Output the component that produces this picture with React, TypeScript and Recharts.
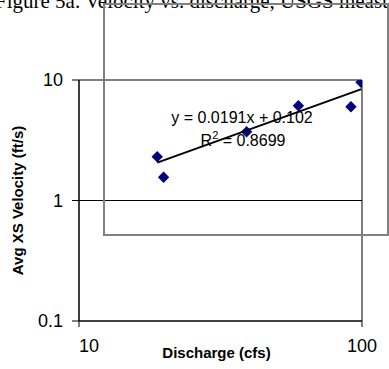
import { CartesianGrid, Scatter, ScatterChart, XAxis, YAxis } from "recharts";

// discharge (cfs) and average cross-section velocity (ft/s)
const discharge = [18.9, 19.9, 39.1, 59.6, 91.4, 99.2];
const velocity = [2.31, 1.56, 3.72, 6.12, 6.0, 9.57];

// trendline end points as drawn in the original
const trendDischarge = [18.9, 99.5];
const trendVelocity = [2.06, 8.4];

const xTicks = [10, 100];
const yTicks = [0.1, 1, 10];

const points = discharge.map((x, i) => ({ x, y: velocity[i] }));
const trend = trendDischarge.map((x, i) => ({ x, y: trendVelocity[i] }));

const sans = "'Liberation Sans', Arial, sans-serif";
const serif = "'Liberation Serif', 'Times New Roman', serif";

function Diamond(props: any) {
  const { cx, cy } = props;
  const r = 5.7;
  return (
    <polygon
      points={`${cx},${cy - r} ${cx + r},${cy} ${cx},${cy + r} ${cx - r},${cy}`}
      fill="#000080"
    />
  );
}

function XTick({ x, y, payload }: any) {
  const anchor = payload.value === 10 ? "start" : "middle";
  return (
    <text x={x} y={y} dy="0.71em" textAnchor={anchor} fill="#000" fontSize={18} fontFamily={sans}>
      {payload.value}
    </text>
  );
}

export default function App() {
  return (
    <div style={{ position: "absolute", left: 0, top: 0, width: 389, height: 369, background: "#fff" }}>
      <ScatterChart width={389} height={369} margin={{ top: 80, right: 27, bottom: 0, left: 0 }}>
        <CartesianGrid stroke="#000" strokeWidth={1} />
        <XAxis
          type="number"
          dataKey="x"
          scale="log"
          domain={[10, 100]}
          ticks={xTicks}
          allowDataOverflow
          height={48}
          stroke="#000"
          tickSize={6}
          tickMargin={12}
          tick={<XTick />}
          label={{
            value: "Discharge (cfs)",
            position: "insideBottom",
            offset: 11,
            dx: -4,
            fill: "#000",
            fontSize: 15,
            fontWeight: "bold",
            fontFamily: sans
          }}
        />
        <YAxis
          type="number"
          dataKey="y"
          scale="log"
          domain={[0.1, 10]}
          ticks={yTicks}
          allowDataOverflow
          width={79}
          stroke="#000"
          tickSize={7}
          tickMargin={9}
          tick={{ fill: "#000", fontSize: 18, fontFamily: sans }}
          label={{
            value: "Avg XS Velocity (ft/s)",
            angle: -90,
            position: "insideLeft",
            offset: 18,
            fill: "#000",
            fontSize: 15,
            fontWeight: "bold",
            fontFamily: sans,
            style: { textAnchor: "middle" }
          }}
        />
        <Scatter data={points} shape={<Diamond />} isAnimationActive={false} />
        <Scatter
          data={trend}
          line={{ stroke: "#000", strokeWidth: 2 }}
          shape={() => <g />}
          isAnimationActive={false}
        />
      </ScatterChart>
      <svg
        width={389}
        height={369}
        style={{ position: "absolute", left: 0, top: 0, pointerEvents: "none" }}
      >
        <text x={-5} y={8} fontSize={21} fontFamily={serif} fill="#000">
          Figure 5a. Velocity vs. discharge, USGS measurements
        </text>
        <rect x={104} y={4} width={284} height={231} fill="none" stroke="#808080" strokeWidth={2} />
        <text x={242} y={123} textAnchor="middle" fontSize={16} fontFamily={sans} fill="#000">
          y = 0.0191x + 0.102
        </text>
        <text x={243} y={146} textAnchor="middle" fontSize={16} fontFamily={sans} fill="#000">
          R<tspan dy={-7} fontSize={11}>2</tspan>
          <tspan dy={7}> = 0.8699</tspan>
        </text>
      </svg>
    </div>
  );
}
